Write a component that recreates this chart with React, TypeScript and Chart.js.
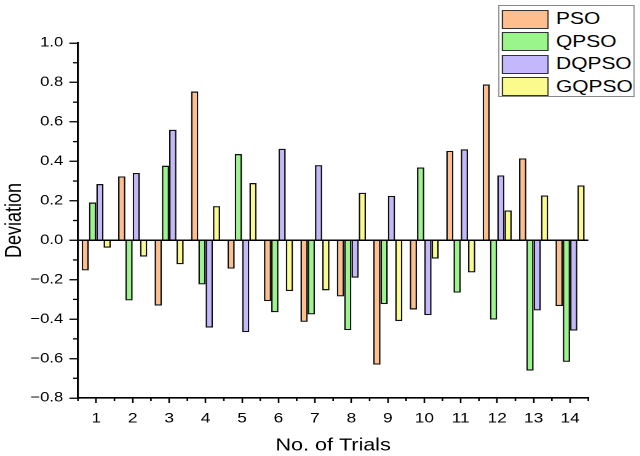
import { useEffect, useRef } from "react";
import Chart from "chart.js/auto";

// values
const trials = ["1", "2", "3", "4", "5", "6", "7", "8", "9", "10", "11", "12", "13", "14"];
const pso = [-0.153, 0.324, -0.331, 0.754, -0.144, -0.309, -0.414, -0.285, -0.631, -0.351, 0.453, 0.79, 0.415, -0.334];
const qpso = [0.191, -0.305, 0.378, -0.224, 0.437, -0.365, -0.376, -0.456, -0.324, 0.369, -0.266, -0.402, -0.661, -0.617];
const dqpso = [0.285, 0.341, 0.56, -0.443, -0.466, 0.464, 0.381, -0.19, 0.225, -0.38, 0.461, 0.329, -0.356, -0.458];
const gqpso = [-0.038, -0.083, -0.122, 0.173, 0.29, -0.258, -0.254, 0.241, -0.41, -0.093, -0.163, 0.151, 0.227, 0.278];

const seriesNames = ["PSO", "QPSO", "DQPSO", "GQPSO"];
const seriesColors = ["#FFBE8C", "#9AF68A", "#C3B8FB", "#FBFB8C"];

const FONT = "'Liberation Sans', Arial, sans-serif";
const STRETCH = 1.23; // the reference text is drawn wide
const BASE_W = 640 / STRETCH;

// short ticks between the labelled ones
const minorTicks = {
  id: "minorTicks",
  afterDraw(chart: any) {
    const { ctx, scales } = chart;
    const x = scales.x;
    const y = scales.y;
    ctx.save();
    ctx.strokeStyle = "#000";
    ctx.lineWidth = 1.3;
    for (let i = 0; i < y.ticks.length - 1; i++) {
      const py = (y.getPixelForTick(i) + y.getPixelForTick(i + 1)) / 2;
      ctx.beginPath();
      ctx.moveTo(x.left - 4, py);
      ctx.lineTo(x.left, py);
      ctx.stroke();
    }
    const n = x.ticks.length;
    const xs = [x.left];
    for (let i = 0; i < n - 1; i++) xs.push((x.getPixelForTick(i) + x.getPixelForTick(i + 1)) / 2);
    xs.push(x.right);
    xs.forEach((px) => {
      ctx.beginPath();
      ctx.moveTo(px, y.bottom);
      ctx.lineTo(px, y.bottom + 3);
      ctx.stroke();
    });
    ctx.restore();
  },
};

export default function App() {
  const canvasRef = useRef<HTMLCanvasElement>(null);
  const chartRef = useRef<Chart | null>(null);

  useEffect(() => {
    document.body.style.margin = "0";
    const ctx = canvasRef.current!.getContext("2d")!;
    if (chartRef.current) chartRef.current.destroy();

    const values = [pso, qpso, dqpso, gqpso];

    chartRef.current = new Chart(ctx, {
      type: "bar",
      data: {
        labels: trials,
        datasets: seriesNames.map((name, i) => ({
          label: name,
          data: values[i],
          backgroundColor: seriesColors[i],
          borderColor: "#111",
          borderWidth: 1.3,
          borderSkipped: "start",
          categoryPercentage: 0.8,
          barPercentage: 1.0,
        })),
      },
      options: {
        responsive: true,
        maintainAspectRatio: false,
        animation: false,
        devicePixelRatio: 2,
        layout: { padding: { top: 43, right: 42, left: 0, bottom: 0 } },
        plugins: {
          legend: { display: false },
          tooltip: { enabled: false },
        },
        scales: {
          x: {
            afterFit: (s: any) => {
              s.height = 58;
            },
            grid: {
              offset: false,
              drawOnChartArea: false,
              tickLength: 5,
              tickColor: "#000",
              tickWidth: 1.3,
            },
            border: { color: "#000", width: 1.6 },
            ticks: {
              color: "#000",
              font: { family: FONT, size: 14 },
              padding: 7,
              maxRotation: 0,
            },
            title: {
              display: true,
              text: "No. of Trials",
              color: "#000",
              font: { family: FONT, size: 17.5 },
              padding: { top: 2, bottom: 0 },
            },
          },
          y: {
            min: -0.8,
            max: 1.0,
            afterFit: (s: any) => {
              s.width = 78 / STRETCH;
            },
            grid: {
              color: (c: any) => (c.tick && Math.abs(c.tick.value) < 1e-9 ? "#000" : "rgba(0,0,0,0)"),
              lineWidth: 1.5,
              tickLength: 7,
              tickColor: "#000",
              tickWidth: 1.3,
            },
            border: { color: "#000", width: 1.6 },
            ticks: {
              stepSize: 0.2,
              color: "#000",
              font: { family: FONT, size: 13.5 },
              padding: 5,
              callback: (v: any) => {
                const n = Math.abs(v) < 1e-9 ? 0 : Number(v);
                return n.toFixed(1).replace("-", "\u2212");
              },
            },
            title: {
              display: true,
              text: "Deviation",
              color: "#000",
              font: { family: FONT, size: 18 },
              padding: { top: 1, bottom: 0 },
            },
          },
        },
      },
      plugins: [minorTicks],
    });

    return () => chartRef.current?.destroy();
  }, []);

  return (
    <div style={{ width: 640, height: 456, overflow: "hidden", background: "#fff", position: "relative" }}>
      <div
        style={{
          width: BASE_W,
          height: 456,
          position: "relative",
          transform: `scaleX(${STRETCH})`,
          transformOrigin: "0 0",
        }}
      >
        <canvas ref={canvasRef}></canvas>
        <div
          style={{
            position: "absolute",
            left: 404.6,
            top: 5,
            width: 111,
            height: 92,
            border: "1px solid #888",
            background: "#fff",
            boxSizing: "border-box",
            fontFamily: FONT,
            fontSize: 17,
            color: "#000",
          }}
        >
          {seriesNames.map((name, i) => (
            <div
              key={name}
              style={{ position: "absolute", left: 2.5, top: 3 + i * 22.6, height: 20, display: "flex", alignItems: "center" }}
            >
              <span
                style={{
                  display: "inline-block",
                  width: 38,
                  height: 19,
                  boxSizing: "border-box",
                  background: seriesColors[i],
                  border: "1px solid #333",
                  marginRight: 6,
                }}
              ></span>
              <span style={{ lineHeight: "20px" }}>{name}</span>
            </div>
          ))}
        </div>
      </div>
    </div>
  );
}
